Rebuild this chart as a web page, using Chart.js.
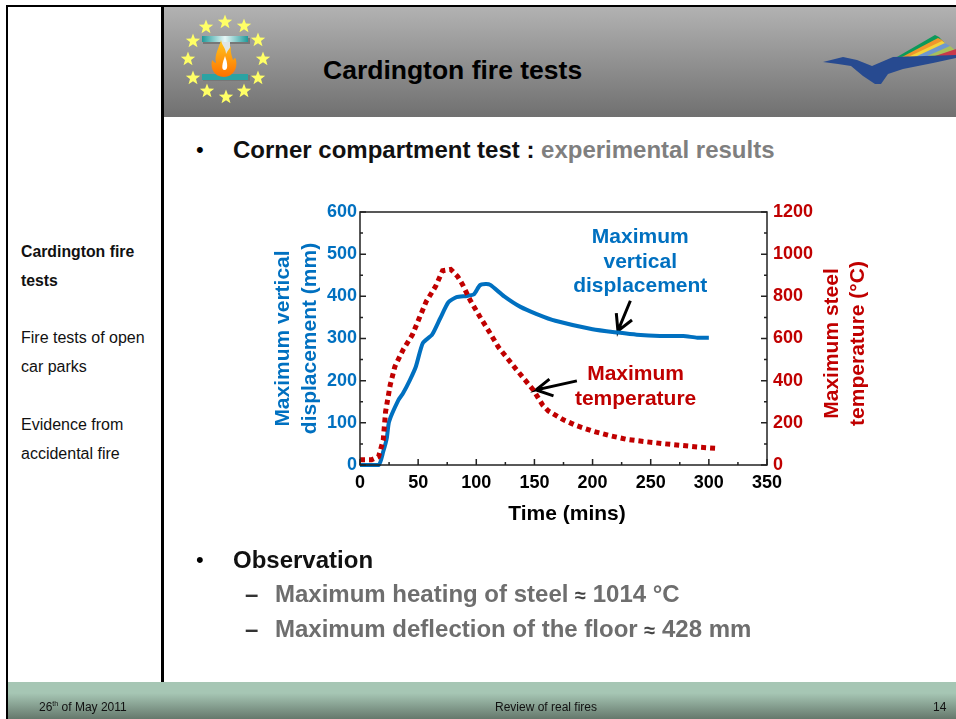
<!DOCTYPE html>
<html>
<head>
<meta charset="utf-8">
<title>Cardington fire tests</title>
<script src="https://cdn.jsdelivr.net/npm/chart.js@4"></script>
<style>
  html, body { margin: 0; padding: 0; background: #fff; overflow: hidden; }
  #slide { position: relative; width: 956px; height: 719px; overflow: hidden; font-family: "Liberation Sans", Arial, sans-serif; }
  #slide div { position: absolute; white-space: nowrap; }
  #myChart { position: absolute; left: 0; top: 0; }
  .gray { color: #7f7f7f; }
  .obs { left: 275px; font-size: 24px; font-weight: bold; color: #6e6e6e; }
  .obs span { font-size: 20px; color: #444; }
  .side { left: 21px; font-size: 16px; color: #111; }
  .foot { top: 700px; font-size: 12px; color: #111; }
  sup { font-size: 7px; line-height: 0; }
</style>
</head>
<body>
<div id="slide">
  <div style="left:164px;top:7px;width:792px;height:110px;background:linear-gradient(#b2b2b2,#707070)"></div>
  <div style="left:6px;top:5px;width:950px;height:2px;background:#000"></div>
  <div style="left:6px;top:5px;width:2px;height:714px;background:#000"></div>
  <div style="left:161px;top:5px;width:3px;height:677px;background:#000"></div>
  <div style="left:8px;top:682px;width:948px;height:37px;background:linear-gradient(#a6c6b4 0,#a6c6b4 30%,#65786c 100%)"></div>

  <svg style="position:absolute;left:175px;top:10px" width="100" height="100" viewBox="175 10 100 100">
    <defs>
      <polygon id="star" fill="#ffff66" points="0,-7.5 1.9,-2.4 7.2,-2.3 3,1 4.5,6.2 0,3.2 -4.5,6.2 -3,1 -7.2,-2.3 -1.9,-2.4"/>
      <linearGradient id="beam" x1="0" x2="1" y1="0" y2="0"><stop offset="0" stop-color="#1f9a9a"/><stop offset="0.5" stop-color="#e8f8f8"/><stop offset="1" stop-color="#1f9a9a"/></linearGradient>
      <linearGradient id="fire" x1="0" x2="0" y1="0" y2="1"><stop offset="0" stop-color="#ffc81e"/><stop offset="1" stop-color="#ff7000"/></linearGradient>
    </defs>
    <use href="#star" x="225" y="22"/><use href="#star" x="244" y="26"/><use href="#star" x="258" y="40"/>
    <use href="#star" x="263" y="59"/><use href="#star" x="258" y="78"/><use href="#star" x="244" y="91"/>
    <use href="#star" x="226" y="97"/><use href="#star" x="207" y="91"/><use href="#star" x="193" y="78"/>
    <use href="#star" x="188" y="59"/><use href="#star" x="193" y="41"/><use href="#star" x="206" y="27"/>
    <rect x="203" y="38" width="47" height="6" fill="#777"/>
    <rect x="202" y="36" width="46" height="6" fill="url(#beam)"/>
    <rect x="203" y="75" width="47" height="6" fill="#777"/>
    <rect x="202" y="74" width="46" height="6" fill="#2ba3a3"/>
    <rect x="221" y="42" width="9" height="32" fill="#dfe6e6"/>
    <path d="M224 77 C214 77 210 68 212 60 C214 62 215 63 216 63 C214 55 219 48 221 40 C222 46 226 48 226 54 C228 50 230 48 231 46 C230 52 232 56 233 60 C235 58 235 57 236 60 C238 68 233 77 224 77Z" fill="url(#fire)"/>
    <path d="M224.5 70 C221 70 222 64 225 56 C228 64 228 70 224.5 70Z" fill="#fff"/>
  </svg>

  <svg style="position:absolute;left:820px;top:30px" width="136" height="60" viewBox="820 30 136 60">
    <polygon fill="#0b9a5a" points="897,57 935,35 939,37 956,55"/>
    <polygon fill="#f0962c" points="902,57 938,38 942,40 956,55"/>
    <polygon fill="#f2d43a" points="908,57 942,41 945,43 956,55"/>
    <polygon fill="#6f97cf" points="915,57 945,43 950,46 956,56"/>
    <polygon fill="#a8c05c" points="925,57 950,46 955,50 956,56"/>
    <polygon fill="#c8394a" points="932,57 956,49 956,56"/>
    <polygon fill="#274a90" points="823,62 843,57 857,60 872,66 893,57 956,55 956,58 933,63 903,69 888,74 881,84 875,84 863,76 851,66 838,64"/>
  </svg>

  <div style="left:323px;top:55px;font-size:26.5px;font-weight:bold;color:#000">Cardington fire tests</div>

  <div style="left:196px;top:137px;font-size:22px">•</div>
  <div style="left:233px;top:136px;font-size:24px;font-weight:bold;color:#111">Corner compartment test : <span class="gray">experimental results</span></div>

  <div class="side" style="top:243px;font-weight:bold;font-size:15.8px">Cardington fire</div>
  <div class="side" style="top:272px;font-weight:bold;font-size:15.8px">tests</div>
  <div class="side" style="top:329px">Fire tests of open</div>
  <div class="side" style="top:358px">car parks</div>
  <div class="side" style="top:416px">Evidence from</div>
  <div class="side" style="top:445px">accidental fire</div>

  <canvas id="myChart" width="956" height="719"></canvas>

  <div style="left:196px;top:547px;font-size:22px">•</div>
  <div style="left:233px;top:546px;font-size:24px;font-weight:bold;color:#111">Observation</div>
  <div style="left:245px;top:580px;font-size:24px;font-weight:bold;color:#333">–</div>
  <div class="obs" style="top:580px">Maximum heating of steel <span>≈</span> 1014 °C</div>
  <div style="left:245px;top:615px;font-size:24px;font-weight:bold;color:#333">–</div>
  <div class="obs" style="top:615px">Maximum deflection of the floor <span>≈</span> 428 mm</div>

  <div class="foot" style="left:39px">26<sup>th</sup> of May 2011</div>
  <div class="foot" style="left:495px">Review of real fires</div>
  <div class="foot" style="left:933px">14</div>
</div>
<script>
// values
const displacementTime = [0, 16, 20, 23, 25, 33, 37, 43, 48, 54, 62, 69, 76, 83, 92, 98, 103, 108, 112, 124, 138, 152, 168, 200, 222, 238, 258, 278, 290, 300];
const displacementMm = [0, 0, 32, 63, 103, 154, 170, 202, 233, 289, 309, 348, 386, 398, 401, 405, 426, 429, 427, 400, 375, 358, 342, 322, 314, 309, 306, 306, 302, 302];

const temperatureTime = [0, 10, 16, 20, 22, 26, 30, 37, 45, 51, 57, 65, 71, 78, 84, 88, 95, 103, 111, 119, 134, 149, 157, 162, 175, 186, 200, 215, 229, 245, 261, 278, 293, 307];
const temperatureC = [25, 25, 40, 119, 253, 380, 467, 546, 617, 697, 776, 847, 921, 928, 894, 858, 779, 704, 633, 559, 456, 356, 285, 256, 214, 187, 161, 139, 122, 111, 101, 92, 84, 79];

// arrows, in time / displacement units
const arrowBlueTime = [232.5, 221.8, 220.4, 221.8, 233.9];
const arrowBlueMm = [389.5, 318, 360, 318, 344];
const arrowRedTime = [186.5, 151.4, 162.9, 151.4, 166.4];
const arrowRedMm = [199.5, 178, 203.5, 178, 164];

const xTicks = [0, 50, 100, 150, 200, 250, 300, 350];
const leftTicks = [0, 100, 200, 300, 400, 500, 600];
const rightTicks = [0, 200, 400, 600, 800, 1000, 1200];

const BLUE = '#0070c0';
const RED = '#c00000';
const BOLD = '"Liberation Sans", Arial, sans-serif';

const points = (xs, ys) => xs.map((x, i) => ({ x: x, y: ys[i] }));

// inward ticks, plot frame, axis titles that need a free position and the in-plot labels
const framePlugin = {
    id: 'frame',
    afterDraw(chart) {
        const c = chart.ctx;
        const a = chart.chartArea;
        const { x, y, y2 } = chart.scales;
        c.save();
        c.strokeStyle = '#222';
        c.lineWidth = 1.5;
        c.strokeRect(a.left, a.top, a.right - a.left, a.bottom - a.top);
        c.beginPath();
        x.ticks.forEach(t => {
            const px = x.getPixelForValue(t.value);
            c.moveTo(px, a.bottom);
            c.lineTo(px, a.bottom - (xTicks.includes(t.value) ? 6 : 3));
        });
        y.ticks.forEach(t => {
            const py = y.getPixelForValue(t.value);
            c.moveTo(a.left, py);
            c.lineTo(a.left + (leftTicks.includes(t.value) ? 6 : 3), py);
        });
        y2.ticks.forEach(t => {
            const py = y2.getPixelForValue(t.value);
            c.moveTo(a.right, py);
            c.lineTo(a.right - (rightTicks.includes(t.value) ? 6 : 3), py);
        });
        c.stroke();

        c.font = 'bold 21px ' + BOLD;
        c.textAlign = 'center';
        c.textBaseline = 'middle';
        c.fillStyle = BLUE;
        c.fillText('Maximum', x.getPixelForValue(241), y.getPixelForValue(541));
        c.fillText('vertical', x.getPixelForValue(241), y.getPixelForValue(482));
        c.fillText('displacement', x.getPixelForValue(241), y.getPixelForValue(425));
        c.fillStyle = RED;
        c.fillText('Maximum', x.getPixelForValue(237), y.getPixelForValue(216));
        c.fillText('temperature', x.getPixelForValue(237), y.getPixelForValue(157));

        c.fillStyle = '#000';
        c.fillText('Time (mins)', (a.left + a.right) / 2 + 3.5, a.bottom + 49);

        c.fillStyle = RED;
        c.translate(a.right + 65, (a.top + a.bottom) / 2 + 5);
        c.rotate(-Math.PI / 2);
        c.fillText('Maximum steel', 0, 0);
        c.fillText('temperature (°C)', 0, 26);
        c.restore();
    }
};

const ctx = document.getElementById('myChart');

const myChart = new Chart(ctx, {
    type: 'scatter',
    data: {
        datasets: [
            {
                data: points(temperatureTime, temperatureC),
                yAxisID: 'y2',
                showLine: true,
                borderColor: RED,
                borderWidth: 5,
                borderDash: [5, 4],
                pointRadius: 0,
                clip: false
            },
            {
                data: points(displacementTime, displacementMm),
                yAxisID: 'y',
                showLine: true,
                borderColor: BLUE,
                borderWidth: 4,
                tension: 0.2,
                pointRadius: 0,
                clip: false
            },
            {
                data: points(arrowBlueTime, arrowBlueMm),
                yAxisID: 'y',
                showLine: true,
                borderColor: '#000',
                borderWidth: 3,
                pointRadius: 0
            },
            {
                data: points(arrowRedTime, arrowRedMm),
                yAxisID: 'y',
                showLine: true,
                borderColor: '#000',
                borderWidth: 3,
                pointRadius: 0
            }
        ]
    },
    options: {
        responsive: false,
        animation: false,
        layout: {
            padding: { left: 270, right: 129, top: 212, bottom: 194 }
        },
        scales: {
            x: {
                type: 'linear',
                min: 0,
                max: 350,
                afterFit: s => { s.height = 60; },
                grid: { display: false, drawTicks: false },
                border: { display: false },
                ticks: {
                    stepSize: 25,
                    autoSkip: false,
                    maxRotation: 0,
                    padding: 7,
                    color: '#000',
                    font: { family: BOLD, size: 18, weight: 'bold' },
                    callback: v => xTicks.includes(v) ? String(v) : ''
                }
            },
            y: {
                position: 'left',
                min: 0,
                max: 600,
                afterFit: s => { s.width = 90; },
                grid: { display: false, drawTicks: false },
                border: { display: false },
                title: {
                    display: true,
                    text: ['Maximum vertical', 'displacement (mm)'],
                    color: BLUE,
                    font: { family: BOLD, size: 21, weight: 'bold', lineHeight: 1.28 },
                    padding: 0
                },
                ticks: {
                    stepSize: 50,
                    autoSkip: false,
                    padding: 3,
                    color: BLUE,
                    font: { family: BOLD, size: 18, weight: 'bold' },
                    callback: v => leftTicks.includes(v) ? String(v) : ''
                }
            },
            y2: {
                position: 'right',
                min: 0,
                max: 1200,
                afterFit: s => { s.width = 60; },
                grid: { display: false, drawTicks: false },
                border: { display: false },
                ticks: {
                    stepSize: 100,
                    autoSkip: false,
                    padding: 6,
                    color: RED,
                    font: { family: BOLD, size: 18, weight: 'bold' },
                    callback: v => rightTicks.includes(v) ? String(v) : ''
                }
            }
        },
        plugins: {
            legend: { display: false },
            tooltip: { enabled: false }
        }
    },
    plugins: [framePlugin]
});
</script>
</body>
</html>
